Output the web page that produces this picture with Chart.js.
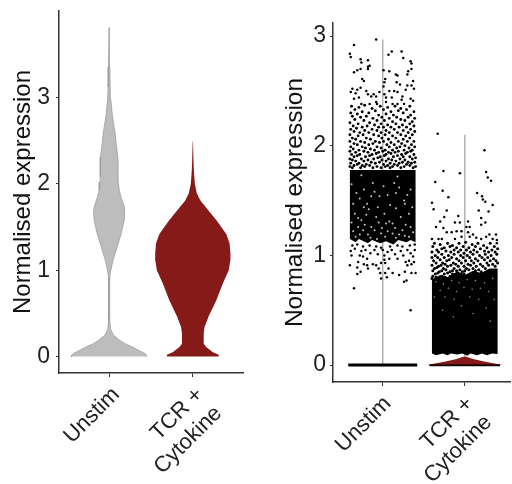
<!DOCTYPE html>
<html><head><meta charset="utf-8">
<script src="https://cdn.jsdelivr.net/npm/chart.js@4"></script>
<style>
html,body{margin:0;padding:0;background:#fff;width:512px;height:484px;overflow:hidden}
canvas{position:absolute;top:0;filter:blur(0.65px)}
#a{left:0}#b{left:256px}
</style></head><body>
<canvas id="a" width="256" height="484"></canvas>
<canvas id="b" width="258" height="484"></canvas>
<script>
const categories = [['Unstim'], ['TCR +', 'Cytokine']];
const leftTicks = [0, 1, 2, 3];
const rightTicks = [0, 1, 2, 3];
const axisTitle = 'Normalised expression';

// Left panel: violin outlines, [expression, half width]
const unstimViolin = [[0,.45],[.015,.447],[.035,.43],[.07,.36],[.11,.28],[.15,.19],[.19,.125],[.25,.05],[.32,.016],[.42,.008],[.65,.006],[.92,.008],[1,.02],[1.12,.048],[1.27,.096],[1.42,.143],[1.58,.18],[1.66,.187],[1.73,.18],[1.85,.14],[1.93,.12],[2.02,.11],[2.08,.106],[2.2,.108],[2.31,.104],[2.43,.088],[2.58,.072],[2.78,.04],[2.97,.02],[3.12,.012],[3.35,.008],[3.81,.002]];
const tcrViolin = [[0,.31],[.02,.31],[.05,.24],[.11,.16],[.15,.13],[.27,.13],[.34,.14],[.46,.187],[.65,.28],[.85,.36],[1,.43],[1.12,.45],[1.19,.45],[1.31,.44],[1.42,.4],[1.58,.28],[1.7,.18],[1.81,.088],[1.89,.048],[2,.024],[2.16,.012],[2.27,.008],[2.49,.002]];

// Right panel: thin violins
const unstimStem = [[0,.009],[2.97,.009]];
const tcrStem = [[0,.009],[2.1,.009]];
const tcrBase = [[0,.46],[.012,.38],[.03,.25],[.055,.1],[.075,.02]];

// Right panel: regions too dense to read point by point, [x, expression]
const unstimZero = [[.58,-.014],[1.42,-.014],[1.42,.014],[.58,.014]];
const tcrZero = [[1.57,-.012],[2.43,-.012],[2.43,.006],[1.57,.006]];
const unstimDense = [[.6,1.15],[.67,1.12],[.71,1.15],[.82,1.11],[.87,1.14],[.97,1.11],[1.04,1.13],[1.13,1.1],[1.19,1.14],[1.29,1.12],[1.34,1.14],[1.4,1.12],[1.4,1.78],[.6,1.78]];
const tcrDense = [[1.6,.105],[1.65,.09],[1.73,.105],[1.79,.09],[1.83,.105],[1.91,.095],[1.97,.105],[2.03,.085],[2.07,.105],[2.15,.09],[2.21,.105],[2.27,.09],[2.33,.105],[2.4,.1],[2.4,.88],[2.3,.88],[2.2,.84],[2.1,.86],[2,.82],[1.9,.85],[1.8,.8],[1.7,.82],[1.6,.78]];

// Right panel: pale gaps seen inside the dense regions
const unstimGaps = [[.96,1.54],[1.06,1.55],[1.26,1.5],[1.27,1.47],[.77,1.6],[.81,1.47],[.77,1.44],[.7,1.34],[.74,1.32],[.8,1.37],[1.08,1.31],[1.12,1.29],[1.04,1.29],[1.16,1.43],[1.18,1.72],[.74,1.73],[.94,1.44],[.86,1.26],[.9,1.23],[.98,1.2],[1.24,1.23],[1.34,1.26],[.64,1.22],[.72,1.19],[.82,1.19],[1.12,1.2],[1.2,1.19],[1.06,1.22],[1.32,1.17],[.64,1.47],[.66,1.38],[1.02,1.38],[1.32,1.38],[1.22,1.35],[.92,1.35],[.86,1.54],[1.14,1.66],[.88,1.66],[.68,1.57],[1.34,1.6],[1.16,1.57],[.7,1.26],[.78,1.28],[.95,1.3],[1.15,1.25],[1.28,1.28],[1.37,1.21],[.62,1.3],[.85,1.16],[.93,1.15],[1.03,1.17],[1.16,1.16],[1.27,1.18],[.67,1.17],[.76,1.23],[.99,1.25],[1.01,1.63],[.83,1.42],[1.09,1.46],[1.3,1.55],[.72,1.52],[.9,1.58],[1.2,1.62],[.62,1.65],[1.36,1.44]];
const tcrGaps = [[1.65,.76],[1.74,.74],[1.84,.77],[1.93,.75],[2.03,.78],[2.13,.77],[2.24,.75],[2.34,.79],[1.7,.68],[1.8,.7],[1.9,.67],[1.99,.71],[2.09,.69],[2.19,.7],[2.29,.67],[1.63,.62],[1.76,.62],[1.87,.6],[2.06,.62],[2.17,.6],[2.36,.6],[1.96,.54],[2.26,.52],[1.73,.5],[2.1,.47],[1.86,.44],[2.31,.4]];

// Right panel: Unstim points, [x, expression]
const unstimTop = [[.92,2.97],[.65,2.92],[.6,2.84],[.61,2.81],[1.11,2.86],[1.07,2.83],[1.23,2.86],[1.25,2.8],[.73,2.79],[.82,2.78],[.74,2.76],[.84,2.73],[.82,2.72],[1.34,2.77],[1.35,2.75],[1.35,2.7],[1.31,2.68],[.73,2.7],[.69,2.69],[.65,2.67],[.82,2.7],[1.01,2.69],[1.08,2.68],[1.16,2.65],[1.18,2.64],[1.3,2.65],[1.03,2.61],[1.02,2.58],[.75,2.61],[.77,2.59],[1.17,2.58],[1.21,2.56],[1.37,2.59],[1.35,2.55],[1.38,2.52],[1.3,2.55],[1.28,2.51],[1.01,2.54],[.73,2.53],[.69,2.51],[.63,2.52],[.61,2.49],[.8,2.5],[.82,2.47],[.89,2.47],[.96,2.49],[1.08,2.5],[1.14,2.5],[1.18,2.49],[1.02,2.47],[.67,2.48],[.65,2.43],[.71,2.44],[.86,2.45],[.92,2.45],[1.04,2.44],[1.11,2.44],[1.24,2.45],[1.34,2.43],[1.37,2.41],[1.23,2.42],[.92,2.4],[.74,2.38],[.84,2.38],[.93,2.38],[1.04,2.4],[1.12,2.38],[1.18,2.38],[1.26,2.38]];
const unstimMid = [[.62,2.36],[.71,2.35],[.78,2.37],[.87,2.34],[.97,2.36],[1.06,2.35],[1.15,2.36],[1.22,2.34],[1.33,2.36],[.66,2.33],[.75,2.31],[.91,2.32],[1.01,2.33],[1.1,2.31],[1.19,2.32],[1.29,2.33],[1.38,2.31],[.61,2.3],[.69,2.29],[.83,2.3],[.95,2.28],[1.04,2.29],[1.13,2.28],[1.25,2.3],[1.34,2.28],[.63,2.27],[.73,2.26],[.8,2.27],[.88,2.25],[.99,2.26],[1.08,2.25],[1.17,2.26],[1.22,2.24],[1.31,2.26],[1.39,2.25],[.66,2.24],[.77,2.23],[.93,2.23],[1.02,2.23],[1.12,2.22],[1.27,2.23],[1.36,2.22],[.6,2.21],[.7,2.2],[.84,2.21],[.9,2.19],[.98,2.2],[1.06,2.19],[1.16,2.2],[1.24,2.19],[1.33,2.2],[.64,2.18],[.75,2.17],[.81,2.18],[.95,2.17],[1.01,2.17],[1.1,2.17],[1.2,2.17],[1.29,2.17],[1.38,2.18],[.61,2.15],[.68,2.16],[.78,2.14],[.87,2.15],[.93,2.14],[1.04,2.14],[1.14,2.15],[1.25,2.14],[1.34,2.15],[.65,2.13],[.72,2.12],[.83,2.12],[.98,2.12],[1.08,2.12],[1.18,2.12],[1.31,2.12],[1.39,2.13],[.6,2.1],[.7,2.09],[.76,2.1],[.89,2.1],[.95,2.09],[1.03,2.1],[1.12,2.09],[1.22,2.1],[1.28,2.09],[1.36,2.1],[.63,2.07],[.67,2.06],[.8,2.07],[.85,2.06],[.99,2.07],[1.07,2.06],[1.16,2.07],[1.25,2.06],[1.33,2.07],[.6,2.04],[.73,2.04],[.78,2.03],[.91,2.04],[.96,2.03],[1.01,2.04],[1.1,2.03],[1.19,2.04],[1.3,2.04],[1.38,2.04],[.65,2.02],[.69,2.01],[.83,2.01],[.88,2.02],[1.05,2.01],[1.14,2.01],[1.23,2.02],[1.27,2],[1.35,2.01],[.61,1.99],[.75,1.99],[.79,1.98],[.93,1.99],[.98,1.98],[1.08,1.99],[1.17,1.98],[1.21,1.99],[1.32,1.98],[1.39,1.99],[.64,1.97],[.71,1.96],[.85,1.97],[.9,1.96],[1.03,1.96],[1.12,1.96],[1.26,1.96],[1.36,1.96],[.6,1.95],[.67,1.94],[.77,1.95],[.82,1.94],[.95,1.94],[1,1.95],[1.07,1.94],[1.15,1.94],[1.19,1.95],[1.3,1.94],[1.34,1.95],[.62,1.92],[.72,1.92],[.87,1.92],[.92,1.93],[1.04,1.92],[1.1,1.93],[1.23,1.92],[1.28,1.93],[1.38,1.92],[.65,1.9],[.69,1.91],[.79,1.9],[.84,1.91],[.97,1.9],[1.02,1.91],[1.13,1.9],[1.18,1.91],[1.25,1.9],[1.33,1.9],[.6,1.88],[.74,1.88],[.89,1.88],[.94,1.89],[1.07,1.88],[1.21,1.88],[1.36,1.88],[1.4,1.89],[.63,1.87],[.67,1.86],[.77,1.86],[.82,1.87],[.86,1.85],[.99,1.87],[1.04,1.86],[1.11,1.87],[1.16,1.86],[1.27,1.87],[1.31,1.85],[.61,1.84],[.71,1.84],[.91,1.84],[.96,1.85],[1.09,1.84],[1.2,1.84],[1.24,1.85],[1.35,1.84],[1.39,1.85],[.65,1.82],[.69,1.83],[.75,1.82],[.8,1.83],[.84,1.82],[1.01,1.83],[1.06,1.82],[1.14,1.83],[1.18,1.82],[1.29,1.83],[1.33,1.82],[.6,1.81],[.63,1.8],[.73,1.8],[.78,1.81],[.88,1.8],[.93,1.81],[.98,1.8],[1.03,1.81],[1.09,1.8],[1.12,1.81],[1.22,1.8],[1.26,1.81],[1.37,1.8],[1.4,1.81]];
const unstimLow = [[.65,.7],[1.34,.5],[.6,.91],[.69,.89],[.73,.85],[.69,.83],[.77,.92],[.81,.91],[.82,.88],[.88,.92],[.92,.91],[.95,.88],[.98,.93],[1.03,.93],[1.07,.88],[1.03,.84],[.97,.84],[.98,.79],[1.05,.8],[1.12,.84],[1.2,.82],[1.27,.85],[1.35,.84],[1.4,.84],[1.29,.77],[1.26,.76],[1.28,.94],[1.32,.95],[1.3,.91],[1.35,.92],[.7,.94],[.72,1],[.76,.99],[.81,.97],[.62,1],[1.08,.97],[1.02,.96],[1.02,1],[1.18,.97],[1.38,.94],[1.37,.99],[.61,1.04],[.66,1.06],[.74,1.04],[.79,1.05],[.85,1.02],[.9,1.05],[.94,1.01],[1,1.05],[1.06,1.03],[1.11,1.05],[1.15,1.01],[1.22,1.04],[1.25,1],[1.3,1.05],[1.34,1.02],[1.39,1.05],[.63,1.09],[.69,1.1],[.76,1.08],[.84,1.09],[.92,1.08],[.98,1.07],[1.09,1.08],[1.18,1.09],[1.24,1.08],[1.33,1.09],[1.39,1.1]];

// Right panel: TCR + Cytokine points, [x, expression]
const tcrTop = [[1.67,2.11],[2.24,1.96],[1.74,1.77],[1.94,1.75],[2.26,1.76],[2.28,1.71],[2.32,1.68],[1.64,1.67],[1.73,1.59],[2.15,1.57],[2.21,1.54],[1.8,1.53],[2.22,1.51],[2.25,1.49],[1.6,1.48],[2.34,1.46],[1.62,1.42],[1.78,1.41],[2.17,1.41],[2.29,1.4],[1.75,1.35],[1.92,1.36],[1.7,1.31],[1.88,1.3],[1.94,1.3],[2.2,1.34],[2.25,1.3],[2.2,1.28],[1.65,1.26],[1.74,1.25],[2.04,1.31],[2.02,1.26],[2.06,1.26],[1.78,1.21],[1.84,1.21],[1.9,1.22],[1.96,1.22],[2.04,1.21],[2.1,1.19],[2.14,1.16],[1.6,1.15],[1.68,1.15],[1.72,1.15],[1.88,1.15],[1.96,1.17],[2.06,1.17],[2.2,1.15],[2.3,1.19],[2.38,1.19],[2.26,1.17],[2.34,1.15],[2.39,1.14],[2.39,1.11]];
const tcrMid = [[1.63,1.11],[1.7,1.1],[1.79,1.11],[1.85,1.09],[1.93,1.11],[2.01,1.12],[2.09,1.1],[2.16,1.11],[2.23,1.09],[2.31,1.11],[1.61,1.08],[1.75,1.07],[1.82,1.08],[1.9,1.07],[1.98,1.08],[2.05,1.07],[2.13,1.08],[2.27,1.07],[2.36,1.08],[1.66,1.05],[1.72,1.06],[1.87,1.05],[1.95,1.05],[2.02,1.05],[2.11,1.05],[2.19,1.06],[2.24,1.04],[2.33,1.05],[2.4,1.06],[1.6,1.03],[1.68,1.03],[1.77,1.04],[1.83,1.03],[1.92,1.03],[1.99,1.02],[2.07,1.03],[2.15,1.03],[2.29,1.03],[2.37,1.03],[1.64,1],[1.72,1.01],[1.8,1],[1.87,1.01],[1.95,1],[2.03,1],[2.1,1.01],[2.18,1],[2.25,1.01],[2.32,1],[2.39,1.01],[1.6,.98],[1.67,.98],[1.75,.98],[1.84,.98],[1.9,.97],[1.98,.98],[2.06,.98],[2.13,.97],[2.21,.98],[2.28,.98],[2.35,.97],[1.62,.95],[1.7,.96],[1.78,.95],[1.81,.96],[1.93,.95],[2.01,.95],[2.08,.95],[2.16,.95],[2.24,.96],[2.31,.95],[2.38,.95],[1.65,.93],[1.73,.93],[1.76,.92],[1.86,.93],[1.89,.92],[1.96,.93],[2.04,.92],[2.11,.93],[2.19,.92],[2.27,.93],[2.34,.92],[2.4,.93],[1.6,.91],[1.68,.9],[1.71,.91],[1.79,.9],[1.83,.91],[1.92,.9],[1.99,.9],[2.07,.91],[2.14,.9],[2.22,.9],[2.29,.91],[2.37,.9],[1.63,.88],[1.66,.89],[1.74,.88],[1.77,.87],[1.87,.88],[1.94,.87],[2.02,.88],[2.05,.87],[2.1,.88],[2.17,.87],[2.25,.88],[1.61,.86],[1.69,.85],[1.72,.86],[1.82,.85],[1.85,.86],[1.9,.86],[1.97,.85],[2,.86],[2.13,.86],[2.2,.85],[1.64,.83],[1.67,.84],[1.75,.83],[1.79,.84],[1.92,.84],[1.95,.83],[1.61,.81],[1.65,.8],[1.72,.81],[1.85,.83],[1.88,.82],[1.99,.83],[1.6,.79],[1.68,.79],[1.76,.8],[1.82,.81]];

const ink = '#333333', violinLine = '#979797', grey = '#bdbdbd', red = '#861a18';
const font = 'Liberation Sans, Arial, sans-serif';

const toPoints = list => list.map(p => ({x: p[0], y: p[1]}));
const outline = (centre, profile) => [
  ...profile.map(p => ({x: centre + p[1], y: p[0]})),
  ...profile.slice().reverse().map(p => ({x: centre - p[1], y: p[0]}))
];
const shape = (data, fill, line, order) => ({data: Array.isArray(data[0]) ? toPoints(data) : data, showLine: !!line, pointRadius: 0, borderColor: line || fill, borderWidth: line ? .7 : 0, fillShape: fill, order});
const dots = (list, colour, r, order) => ({data: toPoints(list), showLine: false, pointRadius: r, pointBorderWidth: 0, pointBackgroundColor: colour, order});

const fillShapes = {
  id: 'fillShapes',
  beforeDatasetDraw(chart, args) {
    const ds = chart.data.datasets[args.index];
    if (!ds.fillShape) return;
    const {ctx} = chart;
    ctx.save();
    ctx.beginPath();
    args.meta.data.forEach((el, i) => i ? ctx.lineTo(el.x, el.y) : ctx.moveTo(el.x, el.y));
    ctx.closePath();
    ctx.fillStyle = ds.fillShape;
    ctx.fill();
    ctx.restore();
  }
};

function panel(id, datasets, ticks, yMin, yMax, xMin, xMax, yWidth, top, right, xHeight, titleTop, titleSize, tickPad, labelShift) {
  return new Chart(document.getElementById(id), {
    type: 'scatter',
    data: {datasets},
    plugins: [fillShapes],
    options: {
      responsive: false, animation: false, clip: false,
      layout: {padding: {top, right, bottom: 0, left: 0}},
      plugins: {legend: {display: false}, tooltip: {enabled: false}},
      scales: {
        x: {
          type: 'linear', min: xMin, max: xMax,
          afterBuildTicks: s => { s.ticks = categories.map((c, i) => ({value: i + 1})); },
          afterFit: s => { s.height = xHeight; s.paddingLeft = 0; s.paddingRight = 0; },
          grid: {display: true, drawOnChartArea: false, drawTicks: true, tickLength: 4, tickWidth: 1, tickColor: ink},
          border: {display: true, color: ink, width: 1.5},
          ticks: {
            autoSkip: false, minRotation: 45, maxRotation: 45, padding: 5, labelOffset: labelShift, color: '#222',
            font: {family: font, size: 22},
            callback: v => categories[Math.round(v) - 1]
          }
        },
        y: {
          type: 'linear', min: yMin, max: yMax,
          afterBuildTicks: s => { s.ticks = ticks.map(v => ({value: v})); },
          afterFit: s => { s.width = yWidth; s.paddingTop = 0; s.paddingBottom = 0; },
          grid: {display: true, drawOnChartArea: false, drawTicks: true, tickLength: 3, tickWidth: 1, tickColor: ink},
          border: {display: true, color: ink, width: 1.5},
          ticks: {padding: tickPad, color: '#222', font: {family: font, size: 23}, callback: v => String(v)},
          title: {display: true, text: axisTitle, color: '#111', font: {family: font, size: titleSize}, padding: {top: titleTop, bottom: 4}}
        }
      }
    }
  });
}

panel('a', [
  shape(outline(1, unstimViolin), grey, violinLine, 2),
  shape(outline(2, tcrViolin), red, null, 1)
], leftTicks, -.19, 4, .4, 2.6, 59, 11, 13, 111, 8.5, 24, 6, 7);

panel('b', [
  dots(unstimGaps, '#c8c8c8', 1, 1),
  dots(tcrGaps, '#8c8c8c', .8, 1),
  dots(unstimTop, '#000', 1.25, 2),
  dots(unstimMid, '#000', 1.45, 2),
  dots(unstimLow, '#000', 1.25, 2),
  dots(tcrTop, '#000', 1.25, 2),
  dots(tcrMid, '#000', 1.5, 2),
  shape(unstimDense, '#000', null, 3),
  shape(tcrDense, '#000', null, 3),
  shape(unstimZero, '#000', null, 3),
  shape(tcrZero, '#1a0505', null, 3),
  shape(outline(2, tcrBase), red, null, 4),
  shape(outline(1, unstimStem), '#b0b0b0', null, 5),
  shape(outline(2, tcrStem), '#b0b0b0', null, 5)
], rightTicks, -.155, 3.12, .394, 2.551, 77, 23, 0, 102, 25, 24.5, 4, 5);
</script>
</body></html>
